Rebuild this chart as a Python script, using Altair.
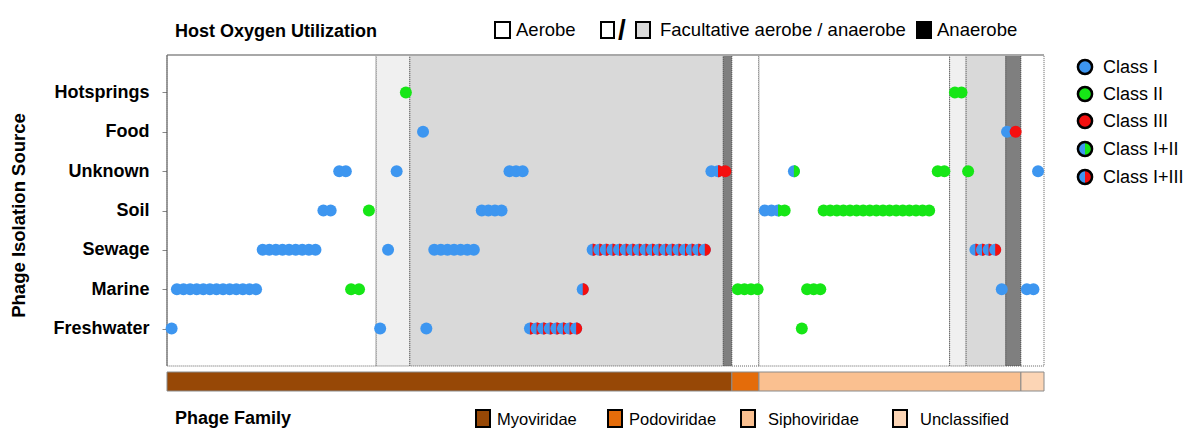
import altair as alt
import pandas as pd

FONT = "Liberation Sans"

# ---------------- data ----------------
sources = ["Hotsprings", "Food", "Unknown", "Soil", "Sewage", "Marine", "Freshwater"]
class_names = ["Class I", "Class II", "Class III", "Class I+II", "Class I+III"]

# phage position along the ordering (column units) per isolation source and RNR class
hotsprings = {"Class II": [36.2, 119.4, 120.4]}
food = {"Class I": [38.8, 127.3], "Class III": [128.6]}
unknown = {
    "Class I": [26.1, 27.1, 34.8, 51.9, 52.9, 53.9, 82.5, 132.0],
    "Class I+III": [83.5],
    "Class III": [84.6],
    "Class I+II": [95.0],
    "Class II": [116.8, 117.8, 121.4],
}
soil = {
    "Class I": [23.7, 24.8, 47.7, 48.7, 49.7, 50.7, 90.6, 91.6],
    "Class I+II": [92.6],
    "Class II": [30.6, 93.6, 99.5, 100.5, 101.5, 102.5, 103.5, 104.5, 105.5, 106.5,
                 107.5, 108.5, 109.5, 110.5, 111.5, 112.5, 113.5, 114.5, 115.5],
}
sewage = {
    "Class I": [14.5, 15.5, 16.5, 17.5, 18.5, 19.5, 20.5, 21.5, 22.5, 33.5,
                40.5, 41.5, 42.5, 43.5, 44.5, 45.5, 46.5],
    "Class I+III": [64.5, 65.5, 66.5, 67.5, 68.5, 69.5, 70.5, 71.5, 72.5, 73.5,
                    74.5, 75.5, 76.5, 77.5, 78.5, 79.5, 80.5, 81.5,
                    122.5, 123.5, 124.5, 125.5],
}
marine = {
    "Class I": [1.5, 2.5, 3.5, 4.5, 5.5, 6.5, 7.5, 8.5, 9.5, 10.5, 11.5, 12.5, 13.5,
                126.5, 130.3, 131.3],
    "Class II": [27.9, 29.1, 86.5, 87.5, 88.5, 89.5, 97.0, 98.0, 99.0],
    "Class I+III": [63.0],
}
freshwater = {
    "Class I": [0.7, 32.3, 39.3],
    "Class I+III": [55, 56, 57, 58, 59, 60, 61, 62],
    "Class II": [96.2],
}
by_source = {"Hotsprings": hotsprings, "Food": food, "Unknown": unknown, "Soil": soil,
             "Sewage": sewage, "Marine": marine, "Freshwater": freshwater}

# host oxygen utilization segments
oxy_start = [0, 31.7, 36.8, 84.3, 85.6, 89.7, 118.6, 121.1, 127.1, 129.4]
oxy_end = [31.7, 36.8, 84.3, 85.6, 89.7, 118.6, 121.1, 127.1, 129.4, 132.9]
oxy_type = ["Aerobe", "Facultative aerobe", "Facultative anaerobe", "Anaerobe", "Aerobe",
            "Aerobe", "Facultative aerobe", "Facultative anaerobe", "Anaerobe", "Aerobe"]

# phage family segments
fam_start = [0, 85.6, 89.7, 129.4]
fam_end = [85.6, 89.7, 129.4, 132.9]
fam_name = ["Myoviridae", "Podoviridae", "Siphoviridae", "Unclassified"]

X_MAX = 132.9

# ---------------- tables ----------------
primary = {"Class I": "I", "Class II": "II", "Class III": "III", "Class I+II": "I", "Class I+III": "I"}
secondary = {"Class I+II": "II", "Class I+III": "III"}
rows = []
for src in sources:
    for cls, poss in by_source[src].items():
        for p in poss:
            rows.append({"source": src, "pos": p, "cls": primary[cls], "part": "full", "k": 0})
            if cls in secondary:
                rows.append({"source": src, "pos": p, "cls": secondary[cls], "part": "right", "k": 1})
pts = pd.DataFrame(rows).sort_values(["pos", "k"]).reset_index(drop=True)
pts["seq"] = range(len(pts))

oxy = pd.DataFrame({"start": oxy_start, "end": oxy_end, "type": oxy_type})
fam = pd.DataFrame({"start": fam_start, "end": fam_end, "family": fam_name})
one = pd.DataFrame({"k": [0]})

BLUE, GREEN, RED = "#3d96f0", "#16e616", "#f50f0f"
FAM_COLORS = ["#974806", "#e46c0a", "#fac090", "#fcd5b5"]
LEFT_PATH = "M0,-1A1,1,0,0,0,0,1Z"
RIGHT_PATH = "M0,-1A1,1,0,0,1,0,1Z"

xscale = alt.Scale(domain=[0, X_MAX], nice=False, zero=False)

bands = alt.Chart(oxy).mark_rect(stroke="#3a3a3a", strokeDash=[1, 1], strokeWidth=0.8).encode(
    x=alt.X("start:Q", scale=xscale, axis=None),
    x2="end:Q",
    y=alt.value(0),
    y2=alt.value(311),
    fill=alt.Fill("type:N", scale=alt.Scale(
        domain=["Aerobe", "Facultative aerobe", "Facultative anaerobe", "Anaerobe"],
        range=["#ffffff", "#f0f0f0", "#d9d9d9", "#7f7f7f"]), legend=None),
)

top_line = alt.Chart(one).mark_rule(color="#a8a8a8", strokeWidth=2).encode(
    x=alt.value(0), x2=alt.value(877), y=alt.value(0))
left_line = alt.Chart(one).mark_rule(color="#5a5a5a", strokeWidth=1).encode(
    x=alt.value(0), y=alt.value(0), y2=alt.value(311))

points = alt.Chart(pts).mark_point(filled=True, size=144, opacity=1).encode(
    x=alt.X("pos:Q", scale=xscale, axis=None),
    y=alt.Y("source:N", sort=sources,
            scale=alt.Scale(type="point", padding=0.95),
            axis=alt.Axis(title="Phage Isolation Source", labelFont=FONT, labelFontSize=18,
                          labelFontWeight="bold", labelColor="black", labelPadding=13,
                          tickSize=5, tickColor="#888888", domain=False,
                          titleFont=FONT, titleFontSize=18.5, titleFontWeight="bold",
                          titleColor="black", titleX=-149, titleY=160, titleAngle=270,
                          titleAlign="center", titleBaseline="middle")),
    color=alt.Color("cls:N", scale=alt.Scale(domain=["I", "II", "III"], range=[BLUE, GREEN, RED]),
                    legend=None),
    shape=alt.Shape("part:N", scale=alt.Scale(domain=["full", "right"], range=["circle", RIGHT_PATH]),
                    legend=None),
    order=alt.Order("seq:Q"),
)

family = alt.Chart(fam).mark_rect(strokeWidth=1).encode(
    x=alt.X("start:Q", scale=xscale, axis=None),
    x2="end:Q",
    y=alt.value(317),
    y2=alt.value(336),
    stroke=alt.Stroke("family:N", scale=alt.Scale(domain=fam_name,
                      range=["#8a8a8a", "#8a8a8a", "#8a8a8a", "#8a8a8a"]), legend=None),
    color=alt.Color("family:N", scale=alt.Scale(domain=fam_name, range=FAM_COLORS), legend=None),
)


# ---------------- manual legends ----------------
def swatch(x1, x2, y1, y2, fill):
    return alt.Chart(one).mark_rect(fill=fill, stroke="black", strokeWidth=2).encode(
        x=alt.value(x1), x2=alt.value(x2), y=alt.value(y1), y2=alt.value(y2))


def label(x, y, txt, size=16, weight="normal", font=FONT):
    return alt.Chart(one).mark_text(text=txt, align="left", baseline="alphabetic",
                                    fontSize=size, fontWeight=weight, font=font,
                                    color="black").encode(x=alt.value(x), y=alt.value(y))


def dot(x, y, left, right):
    return [
        alt.Chart(one).mark_point(shape=LEFT_PATH, filled=True, fill=left, size=200, opacity=1,
                                  strokeWidth=0).encode(x=alt.value(x), y=alt.value(y)),
        alt.Chart(one).mark_point(shape=RIGHT_PATH, filled=True, fill=right, size=200, opacity=1,
                                  strokeWidth=0).encode(x=alt.value(x), y=alt.value(y)),
        alt.Chart(one).mark_point(shape="circle", filled=False, stroke="black", strokeWidth=2.5,
                                  size=200, opacity=1).encode(x=alt.value(x), y=alt.value(y)),
    ]


legend_layers = [
    label(8, -18, "Host Oxygen Utilization", 18, "bold"),
    swatch(328, 343, -33, -17, "white"),
    label(349, -19, "Aerobe", 18.5),
    swatch(434, 447, -33, -17, "white"),
    label(451, -16, "/", 28, "bold"),
    swatch(469, 483, -33, -17, "#d9d9d9"),
    label(493, -19, "Facultative aerobe / anaerobe", 18.5),
    swatch(750, 764, -33, -17, "black"),
    label(770, -19, "Anaerobe", 18.5),
    label(8, 369, "Phage Family", 18, "bold"),
    swatch(309, 323, 355, 372, FAM_COLORS[0]),
    label(330, 370, "Myoviridae", 16.5),
    swatch(441, 455, 355, 372, FAM_COLORS[1]),
    label(462, 370, "Podoviridae", 16.5),
    swatch(574, 588, 355, 372, FAM_COLORS[2]),
    label(601, 370, "Siphoviridae", 16.5),
    swatch(726, 740, 355, 372, FAM_COLORS[3]),
    label(753, 370, "Unclassified", 16.5),
]
cls_cols = [(BLUE, BLUE), (GREEN, GREEN), (RED, RED), (BLUE, GREEN), (BLUE, RED)]
cls_y = [12, 39, 66, 94, 122]
for name, (lc, rc), yy in zip(class_names, cls_cols, cls_y):
    legend_layers += dot(918, yy, lc, rc)
    legend_layers.append(label(936, yy + 6, name, 18))

chart = alt.layer(bands, top_line, left_line, points, family, *legend_layers).resolve_scale(
    fill="independent", color="independent", stroke="independent"
).properties(
    width=877, height=311,
    autosize=alt.AutoSizeParams(type="none"),
    padding={"left": 159, "top": 47, "right": 148, "bottom": 67},
).configure_view(stroke=None)

chart.save("out.html", embed_options={"renderer": "svg", "actions": False})
